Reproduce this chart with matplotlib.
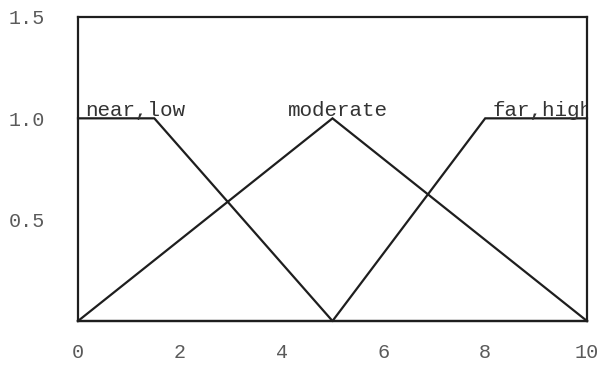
import matplotlib
matplotlib.use("Agg")
import matplotlib.pyplot as plt

# Membership functions over the 0..10 universe
near_low_x = [0, 1.5, 5, 10]
near_low_y = [1, 1, 0, 0]
moderate_x = [0, 5, 10]
moderate_y = [0, 1, 0]
far_high_x = [0, 5, 8, 10]
far_high_y = [0, 0, 1, 1]

x_ticks = [0, 2, 4, 6, 8, 10]
y_ticks = [0.5, 1.0, 1.5]
labels = ["near,low", "moderate", "far,high"]
label_pos = [(0.14, 1.0), (5.1, 1.0), (8.15, 1.0)]

mono = ["Liberation Mono", "DejaVu Sans Mono"]
line_color = "#1e1e1e"

fig = plt.figure(figsize=(6.04, 3.69), dpi=100)
ax = fig.add_axes([78 / 604, 1 - 321 / 369, 509 / 604, 304 / 369])

for xs, ys in [(near_low_x, near_low_y), (moderate_x, moderate_y), (far_high_x, far_high_y)]:
    ax.plot(xs, ys, color=line_color, lw=1.6, solid_joinstyle="miter", clip_on=False)

ax.set_xlim(0, 10)
ax.set_ylim(0, 1.5)
for s in ax.spines.values():
    s.set_linewidth(1.6)
    s.set_color(line_color)
    s.set_zorder(3)

ax.set_xticks(x_ticks)
ax.set_xticklabels([str(v) for v in x_ticks])
ax.set_yticks(y_ticks)
ax.set_yticklabels([f"{v:.1f}" for v in y_ticks])
ax.tick_params(length=0, labelcolor="#5a5a5a", labelsize=14.5)
ax.tick_params(axis="x", pad=16)
ax.tick_params(axis="y", pad=24)
for t in ax.get_xticklabels() + ax.get_yticklabels():
    t.set_family(mono)

for text, (tx, ty) in zip(labels, label_pos):
    ha = "center" if text == "moderate" else "left"
    ax.text(tx, ty + 0.012, text, ha=ha, va="baseline", family=mono,
            fontsize=15, color="#333333", clip_on=True, zorder=2)

fig.savefig("out.png", dpi=100)
